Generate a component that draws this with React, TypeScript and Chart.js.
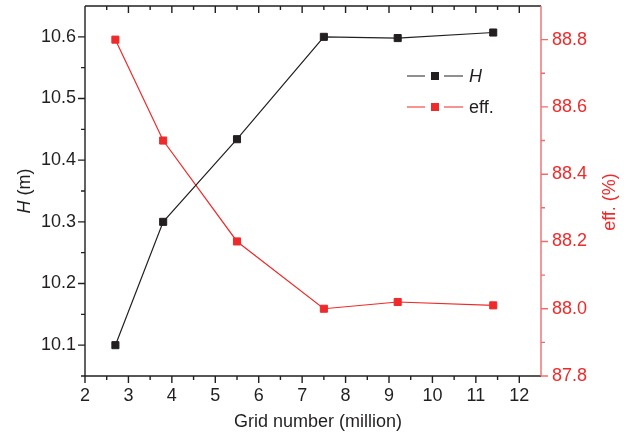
import React, { useEffect, useRef } from 'react';
import { Chart, registerables } from 'chart.js';

Chart.register(...registerables);

// ---- data ----
const gridNumbers = [2.7, 3.8, 5.5, 7.5, 9.2, 11.4];
const hValues = [10.1, 10.3, 10.434, 10.6, 10.598, 10.607];
const effValues = [88.8, 88.5, 88.2, 88.0, 88.02, 88.01];

// ---- ticks ----
const xTicks = [2, 3, 4, 5, 6, 7, 8, 9, 10, 11, 12];
const xMinorTicks = [2.5, 3.5, 4.5, 5.5, 6.5, 7.5, 8.5, 9.5, 10.5, 11.5];
const hTicks = [10.1, 10.2, 10.3, 10.4, 10.5, 10.6];
const hMinorTicks = [10.05, 10.15, 10.25, 10.35, 10.45, 10.55];
const effTicks = [87.8, 88.0, 88.2, 88.4, 88.6, 88.8];
const effMinorTicks = [87.9, 88.1, 88.3, 88.5, 88.7];

const BLACK = '#231f20';
const RED = '#ee2a2a';
const RED_AXIS = '#f06c6c';
const FONT = "'Liberation Sans', Arial, sans-serif";

const axesPlugin = {
  id: 'customAxes',
  afterDraw(chart: any) {
    const { ctx, chartArea } = chart;
    const { left, right, top, bottom } = chartArea;
    const x = chart.scales.x;
    const y = chart.scales.y;
    const y2 = chart.scales.y2;
    const MAJ = 7;
    const MIN = 4;
    ctx.save();
    ctx.lineWidth = 1.4;
    ctx.strokeStyle = BLACK;
    ctx.beginPath();
    ctx.moveTo(left, bottom); ctx.lineTo(right, bottom);
    ctx.moveTo(left, top); ctx.lineTo(right, top);
    ctx.moveTo(left, top); ctx.lineTo(left, bottom);
    xTicks.forEach((v) => {
      const px = x.getPixelForValue(v);
      ctx.moveTo(px, bottom); ctx.lineTo(px, bottom + MAJ);
      ctx.moveTo(px, top); ctx.lineTo(px, top + MAJ);
    });
    xMinorTicks.forEach((v) => {
      const px = x.getPixelForValue(v);
      ctx.moveTo(px, bottom); ctx.lineTo(px, bottom + MIN);
      ctx.moveTo(px, top); ctx.lineTo(px, top + MIN);
    });
    hTicks.forEach((v) => {
      const py = y.getPixelForValue(v);
      ctx.moveTo(left - MAJ, py); ctx.lineTo(left, py);
    });
    hMinorTicks.forEach((v) => {
      const py = y.getPixelForValue(v);
      ctx.moveTo(left - MIN, py); ctx.lineTo(left, py);
    });
    ctx.stroke();

    ctx.strokeStyle = RED_AXIS;
    ctx.beginPath();
    ctx.moveTo(right, top); ctx.lineTo(right, bottom);
    effTicks.forEach((v) => {
      const py = y2.getPixelForValue(v);
      ctx.moveTo(right, py); ctx.lineTo(right + MAJ, py);
    });
    effMinorTicks.forEach((v) => {
      const py = y2.getPixelForValue(v);
      ctx.moveTo(right, py); ctx.lineTo(right + MIN, py);
    });
    ctx.stroke();

    // axis titles
    ctx.fillStyle = BLACK;
    ctx.font = `18px ${FONT}`;
    ctx.textAlign = 'center';
    ctx.textBaseline = 'alphabetic';
    ctx.fillText('Grid number (million)', 318, 427);

    // left title: italic H + (m)
    ctx.save();
    ctx.translate(30, 191);
    ctx.rotate(-Math.PI / 2);
    ctx.textAlign = 'left';
    ctx.font = `italic 18px ${FONT}`;
    const wH = ctx.measureText('H').width;
    ctx.font = `18px ${FONT}`;
    const wM = ctx.measureText(' (m)').width;
    const start = -(wH + wM) / 2;
    ctx.font = `italic 18px ${FONT}`;
    ctx.fillText('H', start, 0);
    ctx.font = `18px ${FONT}`;
    ctx.fillText(' (m)', start + wH, 0);
    ctx.restore();

    // right title
    ctx.save();
    ctx.translate(615, 202);
    ctx.rotate(-Math.PI / 2);
    ctx.fillStyle = RED;
    ctx.font = `18px ${FONT}`;
    ctx.textAlign = 'center';
    ctx.fillText('eff. (%)', 0, 0);
    ctx.restore();

    // legend
    const drawEntry = (yy: number, color: string, label: string, italic: boolean) => {
      ctx.strokeStyle = color;
      ctx.lineWidth = 1.2;
      ctx.beginPath();
      ctx.moveTo(407, yy); ctx.lineTo(425, yy);
      ctx.moveTo(444, yy); ctx.lineTo(463, yy);
      ctx.stroke();
      ctx.fillStyle = color;
      ctx.fillRect(431, yy - 4, 8, 8);
      ctx.fillStyle = BLACK;
      ctx.font = `${italic ? 'italic ' : ''}18px ${FONT}`;
      ctx.textAlign = 'left';
      ctx.textBaseline = 'middle';
      ctx.fillText(label, 469, yy + 1);
    };
    drawEntry(76, BLACK, 'H', true);
    drawEntry(107, RED, 'eff.', false);

    ctx.restore();
  },
};

export default function App() {
  const canvasRef = useRef<HTMLCanvasElement | null>(null);

  useEffect(() => {
    const canvas = canvasRef.current;
    if (!canvas) return;
    const noPadV = (s: any, w: number) => { s.width = w; s.paddingTop = 0; s.paddingBottom = 0; };
    const chart = new Chart(canvas, {
      type: 'line',
      data: {
        datasets: [
          {
            label: 'H',
            data: gridNumbers.map((g, i) => ({ x: g, y: hValues[i] })),
            yAxisID: 'y',
            borderColor: BLACK,
            backgroundColor: BLACK,
            borderWidth: 1.2,
            pointStyle: 'rect',
            pointRadius: 5,
            pointBorderWidth: 1,
            pointBorderColor: BLACK,
            pointBackgroundColor: BLACK,
            tension: 0,
          },
          {
            label: 'eff.',
            data: gridNumbers.map((g, i) => ({ x: g, y: effValues[i] })),
            yAxisID: 'y2',
            borderColor: RED,
            backgroundColor: RED,
            borderWidth: 1.2,
            pointStyle: 'rect',
            pointRadius: 5,
            pointBorderWidth: 1,
            pointBorderColor: RED,
            pointBackgroundColor: RED,
            tension: 0,
          },
        ],
      },
      options: {
        animation: false,
        responsive: false,
        devicePixelRatio: 1,
        layout: { padding: { top: 6, left: 0, right: 0, bottom: 0 } },
        plugins: { legend: { display: false }, tooltip: { enabled: false } },
        scales: {
          x: {
            type: 'linear',
            position: 'bottom',
            min: 2,
            max: 12.5,
            afterBuildTicks: (s: any) => { s.ticks = xTicks.map((v) => ({ value: v })); },
            afterFit: (s: any) => { s.height = 58; s.paddingLeft = 0; s.paddingRight = 0; },
            grid: { display: false, drawTicks: false },
            border: { display: false },
            ticks: {
              padding: 9,
              color: BLACK,
              font: { family: FONT, size: 18 },
              maxRotation: 0,
              callback: (v: any) => String(v),
            },
          },
          y: {
            type: 'linear',
            position: 'left',
            min: 10.05,
            max: 10.65,
            afterBuildTicks: (s: any) => { s.ticks = hTicks.map((v) => ({ value: v })); },
            afterFit: (s: any) => noPadV(s, 85),
            grid: { display: false, drawTicks: false },
            border: { display: false },
            ticks: {
              padding: 9,
              color: BLACK,
              font: { family: FONT, size: 18 },
              callback: (v: any) => Number(v).toFixed(1),
            },
          },
          y2: {
            type: 'linear',
            position: 'right',
            min: 87.8,
            max: 88.9,
            afterBuildTicks: (s: any) => { s.ticks = effTicks.map((v) => ({ value: v })); },
            afterFit: (s: any) => noPadV(s, 85),
            grid: { display: false, drawTicks: false },
            border: { display: false },
            ticks: {
              padding: 11,
              color: RED,
              font: { family: FONT, size: 18 },
              callback: (v: any) => Number(v).toFixed(1),
            },
          },
        },
      },
      plugins: [axesPlugin],
    });
    return () => chart.destroy();
  }, []);

  return (
    <div style={{ position: 'fixed', left: 0, top: 0, width: 626, height: 434, background: '#fff' }}>
      <canvas ref={canvasRef} width={626} height={434} style={{ display: 'block' }} />
    </div>
  );
}
